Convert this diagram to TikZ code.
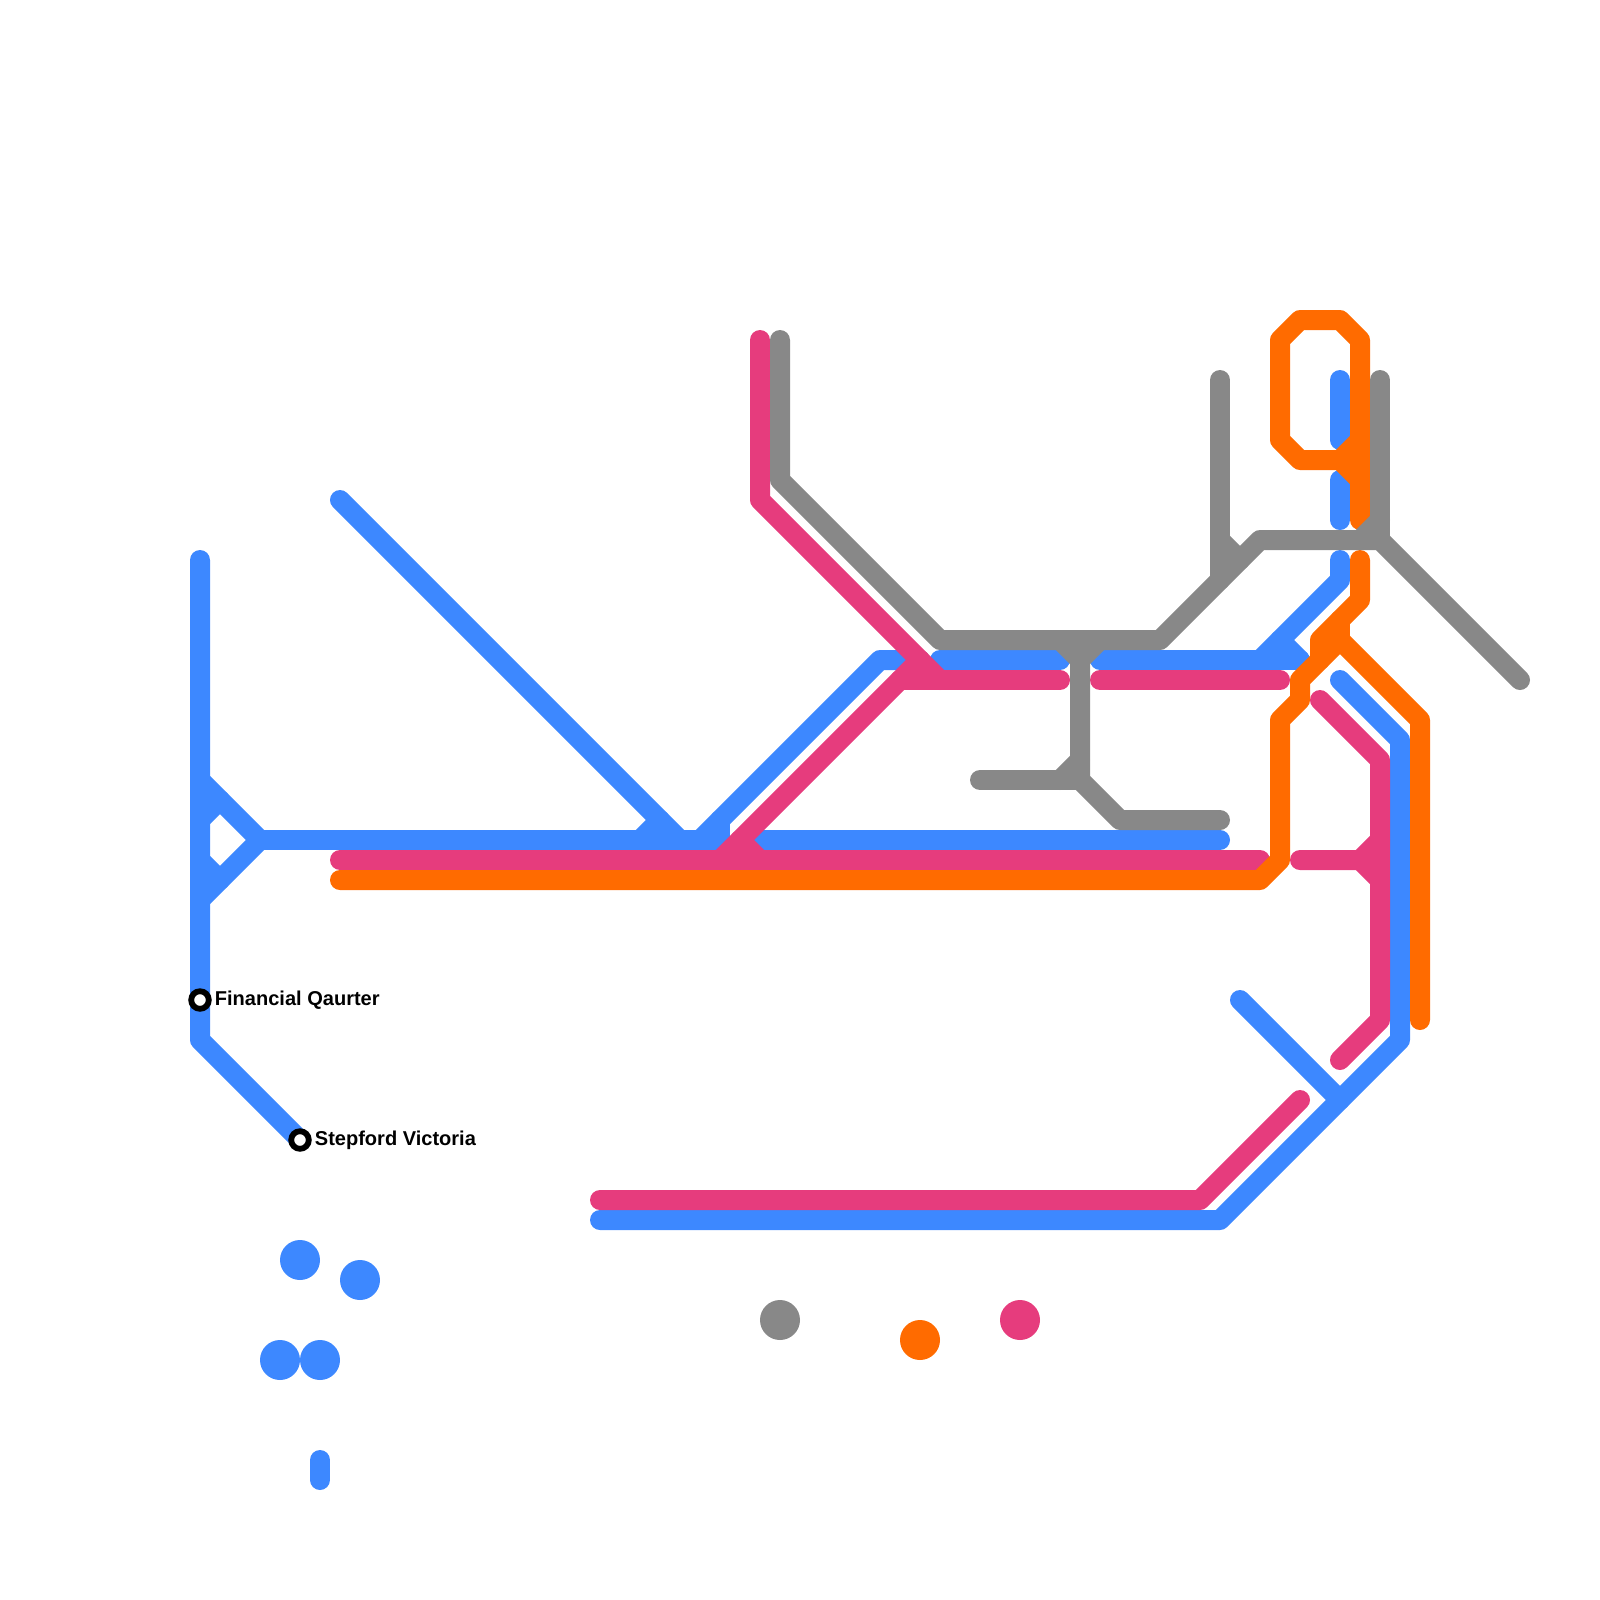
\documentclass[tikz,border=0pt]{standalone}
\usepackage{fontspec}
\setmainfont{Liberation Sans}
\usepackage{xcolor}
\usetikzlibrary{positioning}
\definecolor{lineblue}{RGB}{61, 136, 255}
\definecolor{linepink}{RGB}{230, 60, 125}
\definecolor{lineorange}{RGB}{255, 107, 0}
\definecolor{linegray}{RGB}{136, 136, 136}
\tikzstyle{track} = [line width=2mm, line cap=round, line join=round]
\tikzstyle{blueline} = [track, draw=lineblue]
\tikzstyle{pinkline} = [track, draw=linepink]
\tikzstyle{orangeline} = [track, draw=lineorange]
\tikzstyle{grayline} = [track, draw=linegray]
\tikzstyle{dot} = [circle, minimum size=4mm, inner sep=0pt]
\tikzstyle{station} = [circle, draw=black, fill=white, line width=0.58mm, minimum size=1.76mm, inner sep=0pt]
\tikzstyle{stationlabel} = [inner sep=0pt, font=\fontsize{5.7pt}{6pt}\selectfont\bfseries]
\begin{document}
\begin{tikzpicture}[x=0.2cm, y=-0.2cm]
    \useasboundingbox (0,0) rectangle (80,80);

    % Stations
    \coordinate (financial) at (10,50);
    \coordinate (stepford) at (15,57);

    % Blue paths
    \draw [blueline] (10,28) -- (financial) -- (10,52) -- (stepford);
    \draw [blueline] (10,39) -- (13,42) -- (10,45);
    \draw [blueline] (10,41) -- (11,40);
    \draw [blueline] (10,43) -- (11,44);
    \draw [blueline] (13,42) -- (36,42) -- (36,41);
    \draw [blueline] (17,25) -- (34,42);
    \draw [blueline] (32,42) -- (33,41);
    \draw [blueline] (35,42) -- (44,33) -- (46,33);
    \draw [blueline] (38,42) -- (61,42);
    \draw [blueline] (47,33) -- (53,33);
    \draw [blueline] (55,33) -- (65,33);
    \draw [blueline] (67,28) -- (67,29) -- (63,33);
    \draw [blueline] (64,32) -- (65,33);
    \draw [blueline] (67,19) -- (67,22);
    \draw [blueline] (67,24) -- (67,26);
    \draw [blueline] (67,34) -- (70,37) -- (70,52) -- (61,61) -- (30,61);
    \draw [blueline] (62,50) -- (67,55);
    \draw [blueline] (16,73) -- (16,74);

    % Pink paths
    \draw [pinkline] (38,17) -- (38,25) -- (47,34);
    \draw [pinkline] (45,34) -- (53,34);
    \draw [pinkline] (55,34) -- (64,34);
    \draw [pinkline] (46,33) -- (36,43);
    \draw [pinkline] (17,43) -- (63,43);
    \draw [pinkline] (37,42) -- (38,43);
    \draw [pinkline] (66,35) -- (69,38) -- (69,51) -- (67,53);
    \draw [pinkline] (65,43) -- (68,43) -- (69,42);
    \draw [pinkline] (68,43) -- (69,44);
    \draw [pinkline] (30,60) -- (60,60) -- (65,55);

    % Orange paths
    \draw [orangeline] (17,44) -- (63,44) -- (64,43) -- (64,36) -- (65,35) -- (65,34) -- (67,32) -- (71,36) -- (71,51);
    \draw [orangeline] (68,28) -- (68,30) -- (66,32) -- (66,33);
    \draw [orangeline] (67,31) -- (67,32);
    \draw [orangeline] (68,26) -- (68,17) -- (67,16) -- (65,16) -- (64,17) -- (64,22) -- (65,23) -- (68,23);
    \draw [orangeline] (67,23) -- (68,22);
    \draw [orangeline] (67,23) -- (68,24);

    % Gray paths
    \draw [grayline] (39,17) -- (39,24) -- (47,32) -- (58,32) -- (63,27) -- (69,27) -- (76,34);
    \draw [grayline] (61,19) -- (61,29);
    \draw [grayline] (61,27) -- (62,28);
    \draw [grayline] (69,19) -- (69,27);
    \draw [grayline] (68,27) -- (69,26);
    \draw [grayline] (54,32) -- (54,39) -- (56,41) -- (61,41);
    \draw [grayline] (49,39) -- (54,39);
    \draw [grayline] (53,39) -- (54,38);
    \draw [grayline] (53,32) -- (54,33);
    \draw [grayline] (55,32) -- (54,33);

    % Nodes
    \node (bluedota) [dot, fill=lineblue] at (15,63) {};
    \node (bluedotb) [dot, fill=lineblue] at (18,64) {};
    \node (bluedotc) [dot, fill=lineblue] at (14,68) {};
    \node (bluedotd) [dot, fill=lineblue] at (16,68) {};
    \node (graydot) [dot, fill=linegray] at (39,66) {};
    \node (orangedot) [dot, fill=lineorange] at (46,67) {};
    \node (pinkdot) [dot, fill=linepink] at (51,66) {};
    \node (financialstop) [station] at (financial) {};
    \node (stepfordstop) [station] at (stepford) {};
    \node (financiallabel) [stationlabel, anchor=west] at ([xshift=0.25mm,yshift=-0.05mm]financialstop.east) {Financial Qaurter};
    \node (stepfordlabel) [stationlabel, anchor=west] at ([xshift=0.25mm,yshift=-0.05mm]stepfordstop.east) {Stepford Victoria};
\end{tikzpicture}
\end{document}
